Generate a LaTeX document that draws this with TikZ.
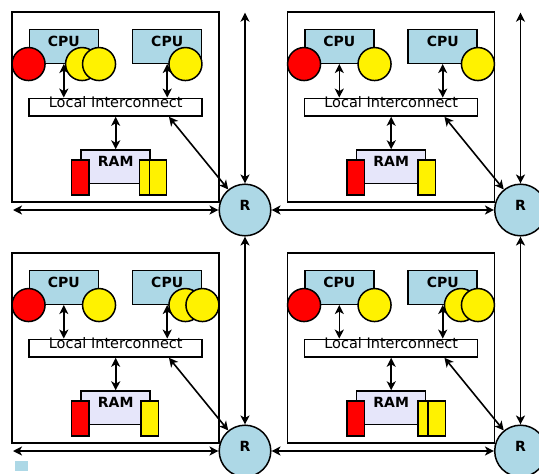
\documentclass[tikz,border=0pt]{standalone}
\usepackage{fontspec}
\setmainfont{DejaVu Sans}
\usetikzlibrary{arrows.meta}
\definecolor{cpublue}{RGB}{173,216,230}
\definecolor{ramlav}{RGB}{230,230,250}
\newcommand{\dotr}{16.5pt}
\newcommand{\cellw}{17.3}
\newcommand{\cellh}{34.7}
\tikzset{
  tilebox/.style={draw, line width=1.8pt, minimum width=207pt, minimum height=190pt, inner sep=0pt},
  cpubox/.style={draw, line width=1.5pt, fill=cpublue, minimum width=69pt, minimum height=34pt, inner sep=0pt,
    font=\fontsize{14}{16}\selectfont\bfseries, text height=0pt, text depth=0pt},
  rambox/.style={cpubox, fill=ramlav, minimum height=33.3pt},
  busbox/.style={draw, line width=1.5pt, fill=white, minimum width=173pt, minimum height=17.7pt, inner sep=0pt,
    font=\fontsize{14.5}{16}\selectfont, text height=0pt, text depth=0pt},
  router/.style={circle, draw, line width=1.5pt, fill=cpublue, minimum size=51.6pt, inner sep=0pt,
    font=\fontsize{14}{16}\selectfont\bfseries, text height=0pt, text depth=0pt},
  link/.style={line width=1.6pt, {Stealth[length=9pt,width=9pt,inset=2.5pt]}-{Stealth[length=9pt,width=9pt,inset=2.5pt]}},
  reddot/.style={draw, line width=1.5pt, fill=red},
  yellowdot/.style={draw, line width=1.5pt, fill=yellow},
  redcell/.style={draw, line width=1.5pt, fill=red},
  yellowcell/.style={draw, line width=1.5pt, fill=yellow}
}

\begin{document}
\begin{tikzpicture}[x=1pt, y=-1pt]
\useasboundingbox (0,0) rectangle (539,474);
%tile A
\begin{scope}
\node[tilebox] (boxA) at (115.5,107) {};
\node[cpubox] (cpuA1) at (63.8,46.3) {CPU};
\node[cpubox] (cpuA2) at (167.2,46.3) {CPU};
\draw[reddot] (cpuA1.south west) circle (\dotr);
\draw[yellowdot] ([xshift=-17pt]cpuA1.south east) circle (\dotr);
\draw[yellowdot] (cpuA1.south east) circle (\dotr);
\draw[yellowdot] ([xshift=-17pt]cpuA2.south east) circle (\dotr);
\node[busbox] (busA) at (115.7,107.2) {Local Interconnect};
\node[rambox] (ramA) at (115.7,166.7) {RAM};
\draw[redcell] (ramA.south west) ++(-9,-24) rectangle ++(\cellw,\cellh);
\draw[yellowcell] (ramA.south east) ++(-11.7,-24) rectangle ++(\cellw,\cellh);
\draw[yellowcell] (ramA.south east) ++(-1.7,-24) rectangle ++(\cellw,\cellh);
\node[router] (routerA) at (245,210) {R};
\coordinate (northA) at (245,12.7);
\coordinate (westA) at (13,210);
\draw[link] (cpuA1.south) -- (cpuA1.south |- busA.north);
\draw[link] (cpuA2.south) -- (cpuA2.south |- busA.north);
\draw[link] (busA) -- (ramA);
\draw[link] ([xshift=-34pt]busA.south east) -- (routerA);
\draw[link] (northA) -- (routerA);
\draw[link] (westA) -- (routerA);
\end{scope}
%tile B
\begin{scope}[shift={(275.5,0)}]
\node[tilebox] (boxB) at (115.5,107) {};
\node[cpubox] (cpuB1) at (63.8,46.3) {CPU};
\node[cpubox] (cpuB2) at (167.2,46.3) {CPU};
\draw[reddot] (cpuB1.south west) circle (\dotr);
\draw[yellowdot] (cpuB1.south east) circle (\dotr);
\draw[yellowdot] (cpuB2.south east) circle (\dotr);
\node[busbox] (busB) at (115.7,107.2) {Local Interconnect};
\node[rambox] (ramB) at (115.7,166.7) {RAM};
\draw[redcell] (ramB.south west) ++(-9,-24) rectangle ++(\cellw,\cellh);
\draw[yellowcell] (ramB.south east) ++(-8.5,-24) rectangle ++(\cellw,\cellh);
\node[router] (routerB) at (245,210) {R};
\coordinate (northB) at (245,12.7);
\draw[link] (cpuB1.south) -- (cpuB1.south |- busB.north);
\draw[link] (cpuB2.south) -- (cpuB2.south |- busB.north);
\draw[link] (busB) -- (ramB);
\draw[link] ([xshift=-34pt]busB.south east) -- (routerB);
\draw[link] (northB) -- (routerB);
\draw[link] (routerA) -- (routerB);
\end{scope}
%tile C
\begin{scope}[shift={(0,241)}]
\node[tilebox] (boxC) at (115.5,107) {};
\node[cpubox] (cpuC1) at (63.8,46.3) {CPU};
\node[cpubox] (cpuC2) at (167.2,46.3) {CPU};
\draw[reddot] (cpuC1.south west) circle (\dotr);
\draw[yellowdot] (cpuC1.south east) circle (\dotr);
\draw[yellowdot] ([xshift=-17pt]cpuC2.south east) circle (\dotr);
\draw[yellowdot] (cpuC2.south east) circle (\dotr);
\node[busbox] (busC) at (115.7,107.2) {Local Interconnect};
\node[rambox] (ramC) at (115.7,166.7) {RAM};
\draw[redcell] (ramC.south west) ++(-9,-24) rectangle ++(\cellw,\cellh);
\draw[yellowcell] (ramC.south east) ++(-10,-24) rectangle ++(\cellw,\cellh);
\node[router] (routerC) at (245,210) {R};
\coordinate (westC) at (13,210);
\draw[link] (cpuC1.south) -- (cpuC1.south |- busC.north);
\draw[link] (cpuC2.south) -- (cpuC2.south |- busC.north);
\draw[link] (busC) -- (ramC);
\draw[link] ([xshift=-34pt]busC.south east) -- (routerC);
\draw[link] (routerA) -- (routerC);
\draw[link] (westC) -- (routerC);
\fill[cpublue] (15,220) rectangle (28,230);
\end{scope}
%tile D
\begin{scope}[shift={(275.5,241)}]
\node[tilebox] (boxD) at (115.5,107) {};
\node[cpubox] (cpuD1) at (63.8,46.3) {CPU};
\node[cpubox] (cpuD2) at (167.2,46.3) {CPU};
\draw[reddot] (cpuD1.south west) circle (\dotr);
\draw[yellowdot] (cpuD1.south east) circle (\dotr);
\draw[yellowdot] ([xshift=-17pt]cpuD2.south east) circle (\dotr);
\draw[yellowdot] (cpuD2.south east) circle (\dotr);
\node[busbox] (busD) at (115.7,107.2) {Local Interconnect};
\node[rambox] (ramD) at (115.7,166.7) {RAM};
\draw[redcell] (ramD.south west) ++(-9,-24) rectangle ++(\cellw,\cellh);
\draw[yellowcell] (ramD.south east) ++(-8.5,-24) rectangle ++(\cellw,\cellh);
\draw[yellowcell] (ramD.south east) ++(1.5,-24) rectangle ++(\cellw,\cellh);
\node[router] (routerD) at (245,210) {R};
\draw[link] (cpuD1.south) -- (cpuD1.south |- busD.north);
\draw[link] (cpuD2.south) -- (cpuD2.south |- busD.north);
\draw[link] (busD) -- (ramD);
\draw[link] ([xshift=-34pt]busD.south east) -- (routerD);
\draw[link] (routerB) -- (routerD);
\draw[link] (routerC) -- (routerD);
\end{scope}
\end{tikzpicture}
\end{document}
